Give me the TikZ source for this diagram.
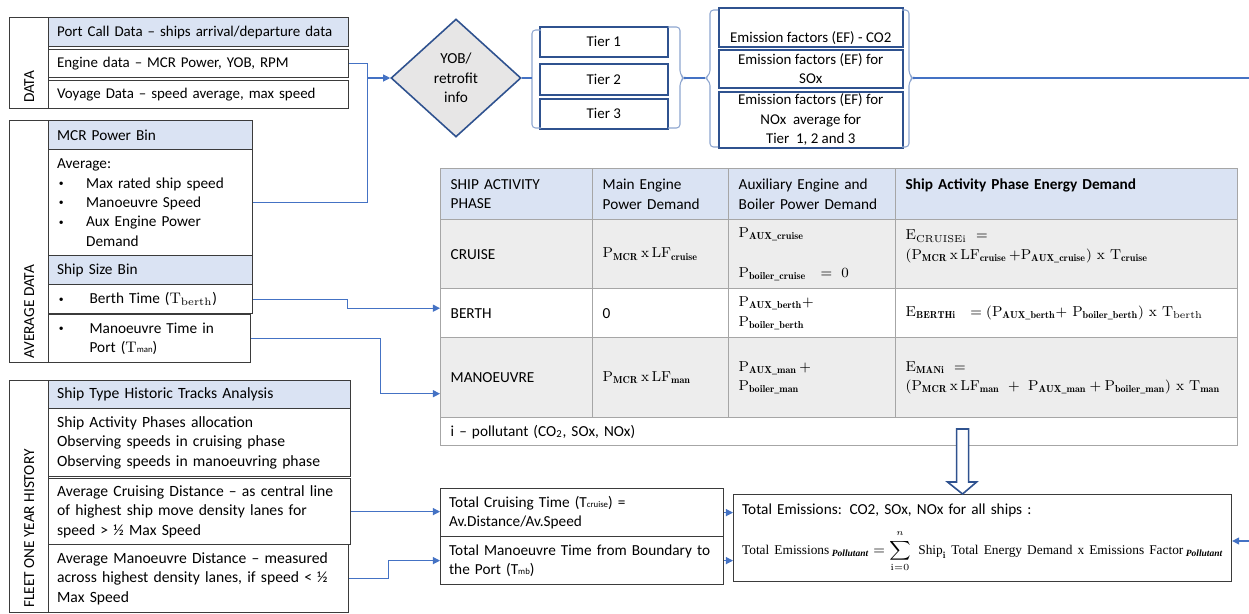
\documentclass[tikz,border=0pt]{standalone}
\usepackage{amsmath}
\usepackage{fontspec}
\usepackage{xcolor}
\usepackage{tikz}
\usetikzlibrary{shapes.geometric, arrows.meta, positioning, calc}

\newfontfamily\carlito{Carlito}
\newfontfamily\tnr{Liberation Serif}
\definecolor{hdrblue}{HTML}{DAE3F3}
\definecolor{rowgray}{HTML}{EDEDED}
\definecolor{gridgray}{HTML}{A6A6A6}
\definecolor{linkblue}{HTML}{4472C4}
\definecolor{navy}{HTML}{2F528F}
\definecolor{bracegray}{HTML}{8EA6CF}
\definecolor{boxline}{HTML}{3B3B3B}
\definecolor{dfill}{HTML}{E7E6E6}

% fonts, power / load factor terms as printed in the table
\newcommand{\cfnt}[1]{\carlito\fontsize{#1}{11pt}\selectfont}
\newcommand{\tmath}[1]{{\fontsize{8.2}{11pt}\selectfont$#1$}}
\newcommand{\Pwr}[1]{\mathrm{P}_{\mathbf{#1}}}
\newcommand{\LFac}[1]{\mathrm{LF}_{\mathbf{#1}}}
\newcommand{\bul}{\makebox[0.58cm][l]{\hspace{1pt}\raisebox{0.2ex}{\fontsize{5.5}{6}\selectfont\textbullet}}}
\newcommand{\pollut}{\mbox{\tnr\bfseries\itshape\fontsize{5.4}{6}\selectfont Pollutant}}

\begin{document}
\begin{tikzpicture}[x=0.02cm, y=-0.02cm,
  font=\cfnt{8.7},
  row/.style={rectangle, draw=boxline, line width=0.7pt, anchor=north west, align=left, inner xsep=0.17cm, inner ysep=0pt},
  hrow/.style={row, fill=hdrblue},
  datarow/.style={row, text width=5.66cm, font=\cfnt{8.5}},
  fleetrow/.style={row, font=\cfnt{8.9}},
  lab/.style={rectangle, draw=boxline, line width=0.7pt, anchor=north west, minimum width=0.78cm, inner sep=0pt},
  vtext/.style={rotate=90, anchor=west, inner sep=0pt},
  tier/.style={rectangle, draw=navy, line width=0.9pt, anchor=north west, minimum width=2.56cm, align=center, inner sep=0pt, font=\cfnt{8.5}},
  cell/.style={rectangle, draw=gridgray, line width=0.8pt, anchor=north west, align=left, inner xsep=0.2cm, inner ysep=0pt},
  colA/.style={cell, text width=2.64cm},
  colB/.style={cell, text width=2.32cm},
  colC/.style={cell, text width=2.94cm},
  colD/.style={cell, text width=6.44cm},
  conn/.style={draw=linkblue, line width=0.6pt},
  arrow/.style={conn, -{Triangle[length=4pt, width=4pt]}},
  brk/.style={draw=bracegray, line width=0.6pt, rounded corners=2pt},
  hollow/.style={draw=navy, fill=white, line width=0.9pt, line join=miter}
]
\useasboundingbox (0,0) rectangle (1249,613);

% DATA
\node[lab, minimum height=1.82cm] (datalbl) at (9,17) {};
\node[vtext] (datatxt) at ($(datalbl.south)+(0,-6)$) {DATA};
\node[datarow, fill=hdrblue, minimum height=0.58cm] (portcall) at (48,17) {Port Call Data – ships arrival/departure data};
\node[datarow, minimum height=0.56cm] (engine) at (48,49) {Engine data – MCR Power, YOB, RPM};
\node[datarow, minimum height=0.56cm] (voyage) at (48,80) {Voyage Data – speed average, max speed};

% AVERAGE DATA
\node[lab, minimum height=4.84cm] (avglbl) at (9,120) {};
\node[vtext] (avgtxt) at ($(avglbl.south)+(0,-4)$) {AVERAGE DATA};
\node[hrow, text width=3.74cm, minimum height=0.58cm] (mcrbin) at (48,120) {MCR Power Bin};
\node[row, text width=3.74cm, minimum height=2.12cm] (avglist) at (48,149) {Average:\\\bul Max rated ship speed\\\bul Manoeuvre Speed\\\bul Aux Engine Power\\\hspace*{0.58cm}Demand};
\node[hrow, text width=3.74cm, minimum height=0.58cm] (sizebin) at (48,255) {Ship Size Bin};
\node[row, text width=3.74cm, minimum height=0.58cm] (berth) at (48,284) {\bul\hspace{2pt}Berth Time ($\mathrm{T_{berth}}$)};
\node[row, text width=3.70cm, minimum height=0.96cm] (mantime) at (48,314) {\bul\hspace{2pt}Manoeuvre Time in\\\hspace*{0.58cm}\hspace{2pt}Port ($\mathrm{T}${\tiny man})};

% FLEET ONE YEAR HISTORY
\node[lab, minimum height=4.64cm] (fleetlbl) at (9,380) {};
\node[vtext] (fleettxt) at ($(fleetlbl.south)+(0,-5)$) {FLEET ONE YEAR HISTORY};
\node[fleetrow, fill=hdrblue, text width=5.70cm, minimum height=0.56cm] (tracks) at (48,380) {Ship Type Historic Tracks Analysis};
\node[fleetrow, text width=5.70cm, minimum height=1.36cm] (phases) at (48,408) {Ship Activity Phases allocation\\Observing speeds in cruising phase\\Observing speeds in manoeuvring phase};
\node[fleetrow, text width=5.70cm, minimum height=1.32cm] (cruisedist) at (48,478) {Average Cruising Distance – as central line\\of highest ship move density lanes for\\speed > ½ Max Speed};
\node[fleetrow, text width=5.66cm, minimum height=1.36cm] (mandist) at (48,544) {Average Manoeuvre Distance – measured\\across highest density lanes, if speed < ½\\Max Speed};

% decision and tiers
\node[diamond, draw=navy, fill=dfill, line width=0.9pt, minimum width=2.6cm, minimum height=2.36cm, inner sep=0pt, align=center] (yob) at (456,78) {YOB/\\retrofit\\info};
\node[tier, minimum height=0.6cm] (tier1) at (539,26) {Tier 1};
\node[tier, minimum height=0.62cm] (tier2) at (539,63) {Tier 2};
\node[tier, minimum height=0.6cm] (tier3) at (539,98) {Tier 3};

\node[tier, minimum width=3.68cm, minimum height=0.78cm] (ef1) at (718,7) {\strut\\Emission factors (EF) - CO2};
\node[tier, minimum width=3.68cm, minimum height=0.76cm] (ef2) at (718,49) {Emission factors (EF) for\\SOx};
\node[tier, minimum width=3.68cm, minimum height=1.12cm] (ef3) at (718,91) {Emission factors (EF) for\\NOx\ \ average for\\Tier\ \ 1, 2 and 3};

% brackets round the tiers and the factors
\coordinate (tierin) at (532,78);
\coordinate (tierout) at (684,78);
\coordinate (efin) at (705,78);
\coordinate (efout) at (913,78);
\coordinate (farright) at (1249,78);
\draw[brk] (541,30) -- (532,30) -- (532,128) -- (541,128);
\draw[brk] (668,27) -- (680,27) -- (680,74) -- (tierout) -- (680,82) -- (680,128) -- (668,128);
\draw[brk] (718,10) -- (710,10) -- (710,74) -- (efin) -- (710,82) -- (710,147) -- (718,147);
\draw[brk] (902,10) -- (909,10) -- (909,74) -- (efout) -- (909,82) -- (909,147) -- (902,147);
\draw[conn] (yob.east) -- (tierin);
\draw[conn] (tierout) -- (efin);
\draw[conn] (efout) -- (farright);

% inputs into the decision
\coordinate (join) at ($(yob.west)+(-23,0)$);
\draw[conn] (engine.east) -| (join);
\draw[conn] (avglist.east) -| (join);
\draw[arrow] (join) -- (yob.west);

% table
\node[colA, fill=hdrblue, minimum height=1.02cm] (h1) at (440,168) {SHIP ACTIVITY\\PHASE};
\node[colB, fill=hdrblue, minimum height=1.02cm] (h2) at (592,168) {Main Engine\\Power Demand};
\node[colC, fill=hdrblue, minimum height=1.02cm] (h3) at (728,168) {Auxiliary Engine and\\Boiler Power Demand};
\node[colD, fill=hdrblue, minimum height=1.02cm] (h4) at (895,168) {\textbf{Ship Activity Phase Energy Demand}\\\mbox{}};

\node[colA, fill=rowgray, minimum height=1.38cm] (c1) at (440,219) {CRUISE};
\node[colB, fill=rowgray, minimum height=1.38cm] (c2) at (592,219) {\tmath{\Pwr{MCR}\,\mathrm{x}\,\LFac{cruise}}};
\node[colC, fill=rowgray, minimum height=1.38cm] (c3) at (728,219) {\tmath{\Pwr{AUX\_cruise}}\\[12pt]\tmath{\Pwr{boiler\_cruise}\ \ =\ 0}};
\node[colD, fill=rowgray, minimum height=1.38cm] (c4) at (895,219) {\tmath{\mathrm{E}_{\mathrm{CRUISEi}}\ =}\\\tmath{(\Pwr{MCR}\,\mathrm{x}\,\LFac{cruise}\,{+}\Pwr{AUX\_cruise})\ \mathrm{x}\ \mathrm{T}_{\mathbf{cruise}}}\\\mbox{}};

\node[colA, minimum height=0.98cm] (b1) at (440,288) {BERTH};
\node[colB, minimum height=0.98cm] (b2) at (592,288) {0};
\node[colC, minimum height=0.98cm] (b3) at (728,288) {\tmath{\Pwr{AUX\_berth}{+}}\\\tmath{\Pwr{boiler\_berth}}};
\node[colD, minimum height=0.98cm] (b4) at (895,288) {\tmath{\mathrm{E}_{\mathbf{BERTHi}}\ \ =(\Pwr{AUX\_berth}{+}\ \Pwr{boiler\_berth})\ \mathrm{x}\ \mathrm{T}_{\mathrm{berth}}}};

\node[colA, fill=rowgray, minimum height=1.6cm] (m1) at (440,337) {MANOEUVRE};
\node[colB, fill=rowgray, minimum height=1.6cm] (m2) at (592,337) {\tmath{\Pwr{MCR}\,\mathrm{x}\,\LFac{man}}};
\node[colC, fill=rowgray, minimum height=1.6cm] (m3) at (728,337) {\tmath{\Pwr{AUX\_man}\,{+}}\\\tmath{\Pwr{boiler\_man}}};
\node[colD, fill=rowgray, minimum height=1.6cm] (m4) at (895,337) {\tmath{\mathrm{E}_{\mathbf{MANi}}\ =}\\\tmath{(\Pwr{MCR}\,\mathrm{x}\,\LFac{man}\ +\ \Pwr{AUX\_man}+\Pwr{boiler\_man})\ \mathrm{x}\ \mathrm{T}_{\mathbf{man}}}};

\node[cell, text width=15.54cm, minimum height=0.56cm] (note) at (440,417) {i – pollutant (CO\textsubscript{2}, SOx, NOx)};

% average data into the table rows
\draw[arrow] (berth.east) -- ++(94,0) |- ($(b1.west)+(0,-5)$);
\draw[arrow] (mantime.east) -- ++(129,0) |- ($(m1.west)+(0,16)$);

% times and totals
\node[row, text width=5.32cm, minimum height=0.96cm] (totcruise) at (440,488) {Total Cruising Time (T{\tiny cruise}) =\\Av.Distance/Av.Speed};
\node[row, text width=5.32cm, minimum height=0.96cm] (totman) at (440,536) {Total Manoeuvre Time from Boundary to\\the Port (T{\tiny mb})};
\node[row, text width=9.62cm, minimum height=1.74cm] (emis) at (733,494) {Total Emissions: CO2, SOx, NOx for all ships :\\[6pt]{\fontsize{7.6}{11pt}\selectfont\mbox{$\displaystyle\mbox{\tnr Total Emissions}\,{}_{\pollut}=\sum_{\mathrm{i=0}}^{\raisebox{1.5pt}{$\scriptstyle n$}}\ \mbox{\tnr Ship}_{\mathbf{i}}\ \mbox{\tnr Total Energy Demand x Emissions Factor}\,{}_{\pollut}$}}};

\draw[arrow] (cruisedist.east) -- (cruisedist.east -| totcruise.west);
\draw[arrow] (mandist.east) -- ++(39,0) |- (totman.west);
\draw[arrow] (totcruise.east) -- (totcruise.east -| emis.west);
\draw[arrow] (totman.east) -- (totman.east -| emis.west);
\coordinate (rightin) at (1249,541);
\draw[arrow] (rightin) -- (rightin -| emis.east);

% hollow arrow from the table down to the totals
\coordinate (dtip) at ($(emis.north)+(-20,0)$);
\draw[hollow] ($(dtip)+(-6,-65)$) -- ++(12,0) -- ++(0,53) -- ++(8,0) -- (dtip) -- ++(-15,-12) -- ++(9,0) -- cycle;

\end{tikzpicture}
\end{document}
